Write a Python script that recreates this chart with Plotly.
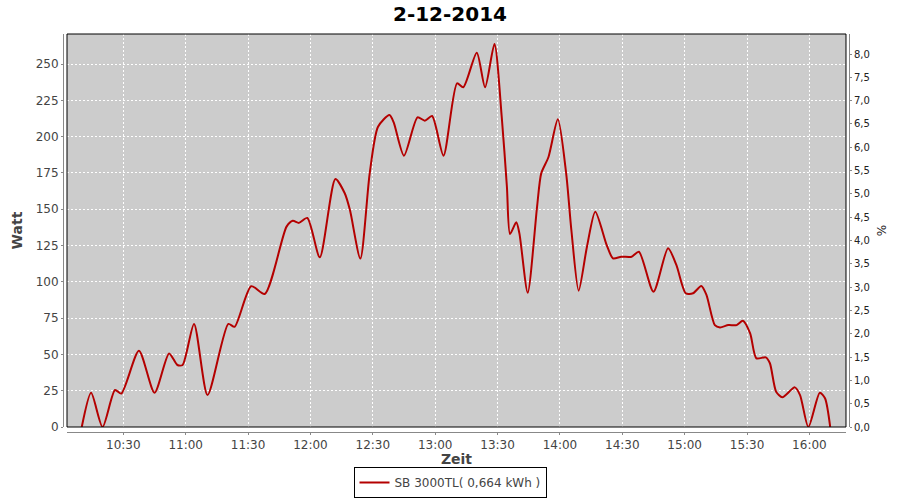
import plotly.graph_objects as go

day = "2014-12-02 "
times = ["10:10:00", "10:14:30", "10:20:00", "10:26:00", "10:29:00", "10:37:30", "10:45:00",
         "10:52:00", "10:56:00", "10:58:30", "11:04:00", "11:10:30", "11:20:30", "11:23:30",
         "11:31:30", "11:38:00", "11:48:30", "11:51:30", "11:54:30", "11:58:30", "12:04:30",
         "12:12:00", "12:16:30", "12:19:00", "12:24:00", "12:28:30", "12:32:30", "12:38:00",
         "12:40:00", "12:45:00", "12:51:30", "12:55:00", "12:58:30", "13:04:00", "13:10:30",
         "13:13:30", "13:20:00", "13:24:00", "13:28:30", "13:32:00", "13:34:30", "13:36:00",
         "13:39:00", "13:40:30", "13:44:30", "13:49:00", "13:51:00", "13:54:30", "13:59:00",
         "14:03:00", "14:05:30", "14:09:00", "14:13:00", "14:17:00", "14:22:30", "14:25:30",
         "14:29:30", "14:34:30", "14:38:00", "14:45:00", "14:52:00", "14:56:00", "15:00:30",
         "15:04:00", "15:08:00", "15:10:30", "15:14:30", "15:17:00", "15:21:00", "15:25:00",
         "15:28:00", "15:31:30", "15:34:30", "15:39:00", "15:41:00", "15:44:00", "15:47:00",
         "15:53:00", "15:55:30", "15:59:30", "16:05:00", "16:07:30", "16:10:00"]
watt = [0, 23.6, 0, 25.5, 23, 52.5, 23.6,
        50.7, 42.7, 42.7, 71, 22, 71, 69,
        97, 91.6, 138, 142, 140.6, 144, 116.9,
        170.8, 161, 149.4, 116, 174.7, 206.8, 214.9,
        210, 186.9, 213.3, 211, 214.2, 186.9, 236.7,
        234, 257.8, 234, 263.8, 213.7, 165.5, 132.9,
        141, 133.4, 92.5, 151.7, 174.7, 186, 211.9,
        174.7, 135.7, 93.9, 124.2, 148.3, 125.3, 116.2,
        117.3, 117.3, 120.7, 93.2, 123.1, 111.6, 92.1,
        92.1, 97.1, 90.9, 70.2, 68.6, 70.2, 70.2,
        73.2, 64.5, 47.3, 48, 43.9, 24.3, 20.5,
        27.3, 22, 0, 23.6, 19.8, 0]

title_text = "2-12-2014"
series_name = "SB 3000TL( 0,664 kWh )"
x_range = [day + "10:02:54", day + "16:17:36"]
watt_range = [0, 270.7]
pct_range = [0, 8.43]

x = [day + t for t in times]

fig = go.Figure()
fig.add_trace(go.Scatter(x=x, y=watt, mode="lines", name=series_name,
                         line=dict(color="#b40000", width=2, shape="spline", smoothing=0.7)))
fig.add_trace(go.Scatter(x=[x[0]], y=[0], yaxis="y2", mode="lines", showlegend=False,
                         hoverinfo="skip", line=dict(color="rgba(0,0,0,0)")))

grid = dict(gridcolor="white", griddash="2px,2px", gridwidth=1)
fig.update_layout(
    width=900, height=500,
    margin=dict(l=63, r=51, t=34, b=68, autoexpand=False),
    paper_bgcolor="white", plot_bgcolor="#cccccc",
    separators=",.",
    font=dict(family="DejaVu Sans", color="#444444", size=12),
    title=dict(text="<b>" + title_text + "</b>", x=0.5, xref="container", xanchor="center",
               y=0.972, yref="container", yanchor="middle", automargin=False,
               font=dict(size=20, color="#000000", family="DejaVu Sans")),
    xaxis=dict(type="date", range=x_range, domain=[0.00509, 0.99618], anchor="free", position=0,
               dtick=30 * 60 * 1000, tick0=day + "10:00:00", tickformat="%H:%M",
               showline=True, linecolor="#888888", linewidth=1, automargin=False,
               ticks="outside", ticklen=2, tickcolor="#888888",
               tickfont=dict(size=12, color="#444444"),
               title=dict(text="<b>Zeit</b>", font=dict(size=14, color="#444444"), standoff=8),
               zeroline=False, **grid),
    yaxis=dict(range=watt_range, domain=[0.01256, 1], anchor="free", position=0,
               dtick=25, tick0=0, showline=True, linecolor="#888888", linewidth=1,
               ticks="outside", ticklen=2, tickcolor="#888888", automargin=False,
               tickfont=dict(size=12, color="#444444"),
               title=dict(text="<b>Watt</b>", font=dict(size=14, color="#444444"), standoff=8),
               zeroline=False, **grid),
    yaxis2=dict(range=pct_range, overlaying="y", side="right", anchor="free", position=1,
                dtick=0.5, tick0=0, tickformat=".1f", showline=True, linecolor="#888888",
                linewidth=1, ticks="outside", ticklen=2, tickcolor="#888888", automargin=False,
                tickfont=dict(size=10, color="#222222"), showgrid=False, zeroline=False,
                title=dict(text="%", font=dict(size=12, color="#222222"), standoff=8)),
    legend=dict(orientation="h", x=0.5, xref="container", xanchor="center",
                y=0.004, yref="container", yanchor="bottom",
                bordercolor="black", borderwidth=1, bgcolor="white",
                font=dict(size=12, color="#444444"), itemwidth=30),
    shapes=[dict(type="rect", xref="x domain", yref="y domain", x0=0, x1=1, y0=0, y1=1,
                 line=dict(color="black", width=1), fillcolor="rgba(0,0,0,0)", layer="above")],
    showlegend=True,
)

fig.write_html("out.html", config={"displayModeBar": False},
               post_script="document.body.style.margin='0';document.body.style.overflow='hidden';")
